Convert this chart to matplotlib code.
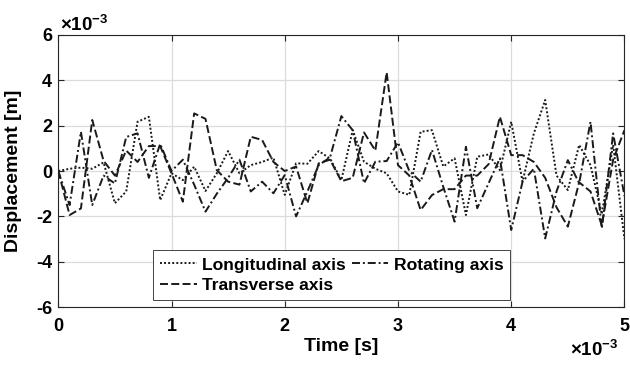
import matplotlib
matplotlib.use("Agg")
import matplotlib.pyplot as plt
import numpy as np

plt.rcParams['font.family'] = ['Liberation Sans', 'DejaVu Sans']
plt.rcParams['font.weight'] = 'bold'
plt.rcParams['axes.unicode_minus'] = False
plt.rcParams['mathtext.fontset'] = 'custom'
plt.rcParams['mathtext.rm'] = 'Liberation Sans'
plt.rcParams['mathtext.bf'] = 'Liberation Sans:bold'

# --- data (time in ms, displacement in 1e-3 m) ---
time_ms = np.arange(51) * 0.1

longitudinal = [0, 0.1, 0.15, 0.1, 0.38, -1.42, -0.9, 2.17, 2.39, -1.28,
                -0.1, -0.4, 0.19, -0.88, -0.1, 0.88, -0.1, 0.26, 0.4, 0.59,
                -1.05, 0.34, 0.32, 0.88, 0.55, -0.4, 1.8, 0.41, 0.1, -0.1,
                -0.9, -1.05, 1.73, 1.8, 0.2, 0.56, -1.94, 0.63, 0.73, 0.04,
                2.17, -0.47, 1.66, 3.13, -0.2, -0.84, 1.15, 0.26, -1.9, 1.15,
                -3.0]

rotating = [0, -1.5, 1.73, -1.5, -0.2, -0.55, 1.5, 1.66, -0.3, 1.2,
            0.0, 0.5, -0.6, -1.79, -1.0, -0.3, 0.5, -0.9, -0.47, -0.98,
            -0.18, -2.0, -0.9, 0.26, 0.6, 2.42, 1.8, -0.54, 0.41, 0.44,
            1.26, 0.0, -0.47, 0.93, -0.7, -2.23, 1.07, -1.64, -0.54, 0.56,
            -2.6, -0.47, 0.1, -2.97, -0.9, 0.48, -0.54, 2.17, -2.53, 1.66,
            -1.1]

transverse = [0, -1.94, -1.65, 2.25, 0.45, -0.2, 0.9, 0.4, 1.1, 1.1,
              -0.1, -1.35, 2.54, 2.3, 0.04, -0.47, -0.6, 1.51, 1.37, 0.4,
              0.0, 0.2, -1.42, 0.34, 0.5, -0.45, -0.3, 1.7, 0.9, 4.35,
              0.26, -0.2, -1.72, -1.06, -0.8, -0.8, -0.2, -0.2, 0.3, 2.39,
              0.7, 0.7, 0.4, -0.3, -1.6, -2.45, -0.5, -0.9, -2.4, 0.5,
              1.8]

xticks = [0, 1, 2, 3, 4, 5]
yticks = [-6, -4, -2, 0, 2, 4, 6]

fig = plt.figure(figsize=(6.3, 3.67), dpi=100)
ax = fig.add_axes([0.0925, 0.163, 0.8987, 0.742])

lw = 1.4
l1, = ax.plot(time_ms, longitudinal, color='#1a1a1a', lw=lw, dashes=(1, 1.1),
              label='Longitudinal axis')
l2, = ax.plot(time_ms, rotating, color='#1a1a1a', lw=lw, dashes=(4.1, 1.5, 1, 1.5),
              label='Rotating axis')
l3, = ax.plot(time_ms, transverse, color='#1a1a1a', lw=lw, dashes=(4.1, 1.7),
              label='Transverse axis')

ax.set_xlim(0, 5)
ax.set_ylim(-6, 6)
ax.set_xticks(xticks)
ax.set_yticks(yticks)
ax.set_xticklabels([str(v) for v in xticks])
ax.set_yticklabels([str(v) for v in yticks])
ax.grid(True, color='#dcdcdc', lw=0.9)
ax.set_axisbelow(True)
for s in ax.spines.values():
    s.set_color('#262626')
    s.set_linewidth(0.8)
ax.tick_params(axis='both', direction='in', top=True, right=True, length=4,
               width=0.8, labelsize=13, colors='#262626')
ax.tick_params(axis='x', pad=7.5)
ax.tick_params(axis='y', pad=4.5)
for lab in ax.get_xticklabels() + ax.get_yticklabels():
    lab.set_color('black')
    lab.set_fontweight('bold')

ax.set_xlabel('Time [s]', fontsize=14, fontweight='bold')
ax.set_ylabel('Displacement [m]', fontsize=14, fontweight='bold')
ax.xaxis.set_label_coords(0.5, -0.115)
ax.yaxis.set_label_coords(-0.064, 0.5)

# exponent labels
fig.text(60 / 630, 1 - 31 / 367, r'$\times$10$^{\mathbf{-3}}$', fontsize=13.5,
         fontweight='bold', ha='left', va='baseline')
fig.text(570 / 630, 1 - 356 / 367, r'$\times$10$^{\mathbf{-3}}$', fontsize=13.5,
         fontweight='bold', ha='left', va='baseline')

leg = ax.legend(handles=[l1, l3, l2], loc='lower left', bbox_to_anchor=(0.167, 0.026),
                ncol=2, fontsize=12.6, frameon=True, fancybox=False, framealpha=1,
                edgecolor='#262626', borderaxespad=0, borderpad=0.4,
                handlelength=2.1, handletextpad=0.3, columnspacing=0.35,
                labelspacing=0.3)
leg.get_frame().set_linewidth(0.6)

fig.savefig('out.png', dpi=100)
